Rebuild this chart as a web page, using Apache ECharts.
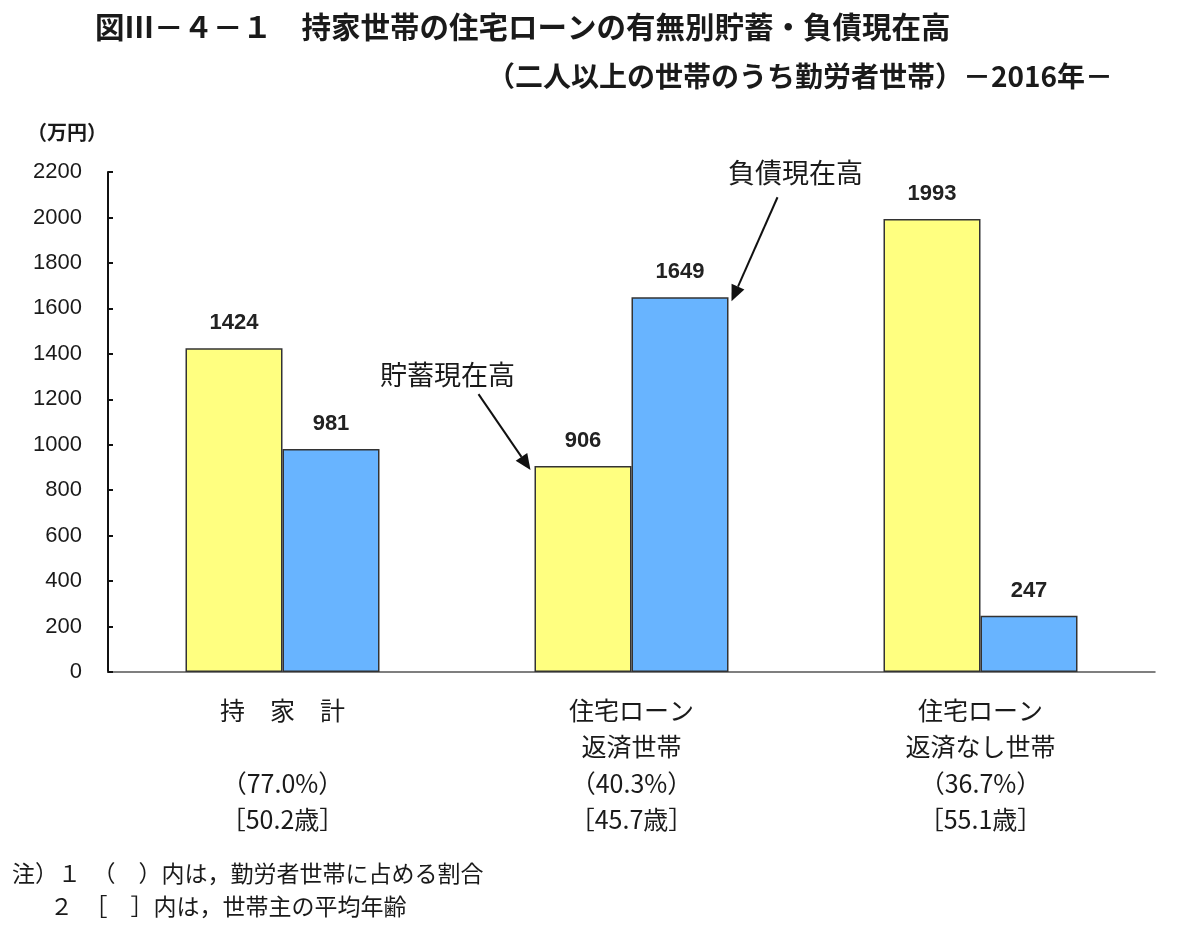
<!DOCTYPE html>
<html lang="ja">
<head>
    <meta charset="UTF-8">
    <title>持家世帯の住宅ローンの有無別貯蓄・負債現在高</title>
    <script src="https://cdn.jsdelivr.net/npm/echarts@6/dist/echarts.min.js"></script>
    <style>
        body{ margin:0; background:#fff; }
        #main{ width:1200px; height:936px; }
    </style>
</head>
<body>
<div id="main"></div>
<script type="text/javascript">
    // data
    var categories = ['持　家　計', '住宅ローン\n返済世帯', '住宅ローン\n返済なし世帯'];
    var shares = ['77.0%', '40.3%', '36.7%'];
    var ages = ['50.2', '45.7', '55.1'];
    var savings = [1424, 906, 1993];   // 貯蓄現在高
    var debts = [981, 1649, 247];      // 負債現在高
    var yTicks = [0, 2200, 200];       // min, max, interval

    var jp = "'Noto Sans CJK JP', sans-serif";
    var num = "'Liberation Sans', Arial, sans-serif";

    var myChart = echarts.init(document.getElementById('main'));

    var option = {
        backgroundColor: '#fff',
        animation: false,
        title: [
            {
                text: '図Ⅲ－４－１　持家世帯の住宅ローンの有無別貯蓄・負債現在高',
                left: 90, top: 7,
                textStyle: { fontFamily: jp, fontSize: 29.5, fontWeight: 'bold', color: '#1a1a1a' }
            },
            {
                text: '（二人以上の世帯のうち勤労者世帯）－2016年－',
                right: 82, top: 57,
                textStyle: { fontFamily: jp, fontSize: 28, fontWeight: 'bold', color: '#1a1a1a' }
            },
            {
                text: '（万円）',
                left: 22, top: 117,
                textStyle: { fontFamily: jp, fontSize: 20, fontWeight: 'bold', color: '#1a1a1a' }
            }
        ],
        grid: { left: 108, right: 45, top: 172, bottom: 264 },
        xAxis: {
            type: 'category',
            data: categories,
            axisLine: { lineStyle: { color: '#555', width: 1.5 } },
            axisTick: { show: false },
            axisLabel: {
                margin: 20,
                lineHeight: 36.5,
                fontFamily: jp,
                fontSize: 25,
                color: '#1a1a1a',
                formatter: function (v, i) {
                    var lines = v.split('\n');
                    if (lines.length < 2) lines.push('');
                    return lines.join('\n') + '\n（' + shares[i] + '）\n［' + ages[i] + '歳］';
                }
            }
        },
        yAxis: {
            type: 'value',
            min: yTicks[0], max: yTicks[1], interval: yTicks[2],
            splitLine: { show: false },
            axisLine: { show: true, lineStyle: { color: '#111', width: 2 } },
            axisTick: { show: true, inside: true, length: 5, lineStyle: { color: '#111', width: 2 } },
            axisLabel: {
                margin: 26, fontFamily: num, fontSize: 22, color: '#1a1a1a',
                formatter: function (v) { return String(v); }
            }
        },
        series: [
            {
                name: '貯蓄現在高',
                type: 'bar',
                barWidth: 97,
                barGap: '0%',
                itemStyle: { color: '#FFFF80', borderColor: '#333', borderWidth: 1.5 },
                label: { show: true, position: 'top', distance: 14, fontFamily: num, fontSize: 22, fontWeight: 'bold', color: '#222' },
                data: savings
            },
            {
                name: '負債現在高',
                type: 'bar',
                barWidth: 97,
                barGap: '0%',
                itemStyle: { color: '#68B4FF', borderColor: '#333', borderWidth: 1.5 },
                label: { show: true, position: 'top', distance: 14, fontFamily: num, fontSize: 22, fontWeight: 'bold', color: '#222' },
                data: debts
            }
        ],
        graphic: [
            {
                type: 'text', left: 12, top: 862,
                style: { text: '注）１　（　）内は，勤労者世帯に占める割合', fontFamily: jp, fontSize: 23, fill: '#1a1a1a' }
            },
            {
                type: 'text', left: 50, top: 895,
                style: { text: '２　［　］内は，世帯主の平均年齢', fontFamily: jp, fontSize: 23, fill: '#1a1a1a' }
            }
        ]
    };
    myChart.setOption(option);

    // arrows pointing at the bars, anchored via the axes
    function arrow(x1, y1, x2, y2) {
        var a = Math.atan2(y2 - y1, x2 - x1), h = 16, w = 7;
        var bx = x2 - h * Math.cos(a), by = y2 - h * Math.sin(a);
        return [
            { type: 'line', shape: { x1: x1, y1: y1, x2: bx, y2: by }, style: { stroke: '#111', lineWidth: 2 } },
            { type: 'polygon', shape: { points: [
                [x2, y2],
                [bx + w * Math.sin(a), by - w * Math.cos(a)],
                [bx - w * Math.sin(a), by + w * Math.cos(a)]
            ] }, style: { fill: '#111' } }
        ];
    }
    var c1 = myChart.convertToPixel({ gridIndex: 0 }, [1, debts[1]]);
    var s1 = myChart.convertToPixel({ gridIndex: 0 }, [1, savings[1]]);
    var bw = 97;
    var debtTip = [c1[0] + bw + 3, c1[1] + 4];
    var saveTip = [s1[0] - bw - 4, s1[1] + 4];
    var extra = arrow(debtTip[0] + 46, debtTip[1] - 104, debtTip[0], debtTip[1])
        .concat(arrow(saveTip[0] - 52, saveTip[1] - 76, saveTip[0], saveTip[1]));
    extra.push({
        type: 'text', x: debtTip[0] + 64, y: debtTip[1] - 128,
        style: { text: '負債現在高', fontFamily: jp, fontSize: 27, fill: '#1a1a1a', align: 'center', verticalAlign: 'middle' }
    });
    extra.push({
        type: 'text', x: saveTip[0] - 83, y: saveTip[1] - 95,
        style: { text: '貯蓄現在高', fontFamily: jp, fontSize: 27, fill: '#1a1a1a', align: 'center', verticalAlign: 'middle' }
    });
    myChart.setOption({ graphic: option.graphic.concat(extra) });
</script>
</body>
</html>
